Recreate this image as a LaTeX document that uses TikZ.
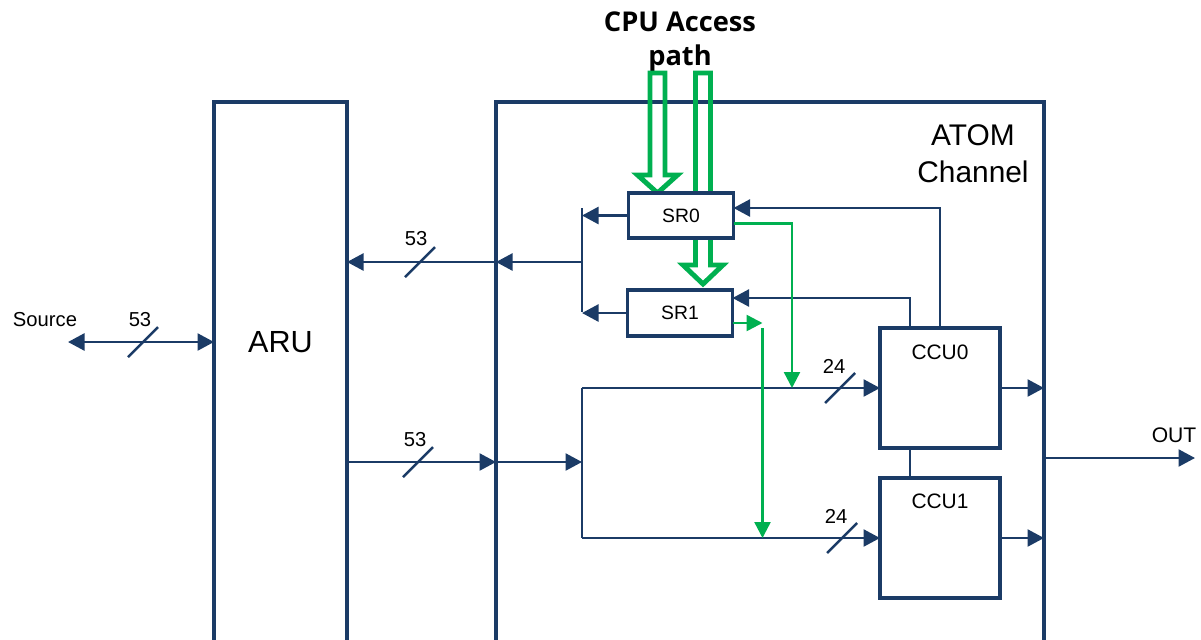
\documentclass[tikz,border=0pt]{standalone}
\usepackage{fontspec}
\setmainfont{Liberation Sans}
\newfontfamily\titlefont{Open Sans}
\usetikzlibrary{arrows.meta,positioning,calc}
\definecolor{LineNavy}{HTML}{1B3B66}
\definecolor{PathGreen}{HTML}{00B050}

\begin{document}
\begin{tikzpicture}[
  block/.style={draw=LineNavy, line width=2.2pt, fill=white, inner sep=0pt, outer sep=0pt},
  wire/.style={line width=1.4pt, LineNavy},
  arr/.style={-{Triangle[length=3.3mm,width=3.4mm]}, line width=1.4pt, LineNavy},
  dblarr/.style={{Triangle[length=3.3mm,width=3.4mm]}-{Triangle[length=3.3mm,width=3.4mm]}, line width=1.4pt, LineNavy},
  garr/.style={-{Triangle[length=3.2mm,width=3.2mm]}, line width=1.4pt, PathGreen},
  cpu/.style={draw=PathGreen, line width=2.8pt},
  lbl/.style={font=\fontsize{11.5}{13}\selectfont, inner sep=0pt}
]
\useasboundingbox (0,0) rectangle (24.02,-12.78);
\clip (0,0) rectangle (24.02,-12.78);

\node[block, fill=none, minimum width=2.66cm, minimum height=11.16cm] (aru) at (5.61,-7.62) {};
\node[block, fill=none, minimum width=10.96cm, minimum height=11.16cm] (atom) at (15.4,-7.62) {};
\node[font=\fontsize{17.4}{20}\selectfont] (arulbl) at (5.61,-6.84) {ARU};
\node[align=center, font=\fontsize{17}{21}\selectfont] (atomlbl) at (19.46,-3.07) {ATOM\\Channel};
\node[align=center, font=\titlefont\bfseries\fontsize{15.5}{19.3}\selectfont] (cpulbl) at (13.6,-0.84) {CPU Access\\path};

\draw[cpu] (13.0,-1.46) -- (13.3,-1.46) -- (13.3,-3.5) -- (13.55,-3.5) -- (13.15,-3.86) -- (12.75,-3.5) -- (13.0,-3.5) -- cycle;
\draw[cpu] (13.91,-1.46) -- (14.21,-1.46) -- (14.21,-5.3) -- (14.46,-5.3) -- (14.06,-5.68) -- (13.66,-5.3) -- (13.91,-5.3) -- cycle;

\node[block, minimum width=2.1cm, minimum height=0.9cm, font=\fontsize{11}{13}\selectfont] (sr0) at (13.62,-4.31) {SR0};
\node[block, minimum width=2.1cm, minimum height=0.92cm, font=\fontsize{11}{13}\selectfont] (sr1) at (13.6,-6.26) {SR1};
\node[block, minimum width=2.4cm, minimum height=2.4cm] (ccu0) at (18.8,-7.76) {};
\node[block, minimum width=2.4cm, minimum height=2.4cm] (ccu1) at (18.8,-10.76) {};
\node[lbl, font=\fontsize{11.9}{14}\selectfont] (ccu0lbl) at ([yshift=-0.48cm]ccu0.north) {CCU0};
\node[lbl, font=\fontsize{11.9}{14}\selectfont] (ccu1lbl) at ([yshift=-0.46cm]ccu1.north) {CCU1};

\coordinate (srcend) at (1.36,-6.84);
\coordinate (busA) at (11.64,-5.24);
\coordinate (busAtop) at (11.64,-4.16);
\coordinate (busAbot) at (11.64,-6.24);
\coordinate (busB) at (11.64,-9.24);
\coordinate (outend) at (23.9,-9.16);
\coordinate (tap0) at (15.84,-7.76);

\draw[dblarr] (srcend) -- (aru.west |- srcend);
\draw[wire] (busAtop) -- (busAbot);
\draw[arr] (sr0.west) -- (sr0.west -| busA);
\draw[arr] (sr1.west) -- (sr1.west -| busA);
\draw[arr] (busA) -- (atom.west |- busA);
\draw[arr] (atom.west |- busA) -- (aru.east |- busA);
\draw[arr] (aru.east |- busB) -- (atom.west |- busB);
\draw[arr] (atom.west |- busB) -- (busB);
\draw[wire] (busB |- ccu0) -- (busB |- ccu1);
\draw[arr] (busB |- ccu0) -- (ccu0.west);
\draw[arr] (busB |- ccu1) -- (ccu1.west);
\draw[arr] (ccu0.north) |- ([yshift=0.15cm]sr0.east);
\draw[arr] ([xshift=-0.6cm]ccu0.north) |- ([yshift=0.3cm]sr1.east);
\draw[wire] ([xshift=-0.6cm]ccu0.south) -- ([xshift=-0.6cm]ccu1.north);
\draw[arr] (ccu0.east) -- (atom.east |- ccu0);
\draw[arr] (ccu1.east) -- (atom.east |- ccu1);
\draw[arr] (atom.east |- outend) -- (outend);

\draw[garr] ([yshift=-0.16cm]sr0.east) -| (tap0);
\draw[garr] ([yshift=-0.2cm]sr1.east) -- ++(0.6,0) coordinate (tap1);
\draw[garr] ([yshift=-0.1cm]tap1) -- (tap1 |- ccu1);

\draw[wire] (2.86,-6.84) +(-0.3,-0.3) -- +(0.3,0.3);
\draw[wire] (8.4,-5.24) +(-0.3,-0.3) -- +(0.3,0.3);
\draw[wire] (8.36,-9.24) +(-0.3,-0.3) -- +(0.3,0.3);
\draw[wire] (16.8,-7.76) +(-0.3,-0.3) -- +(0.3,0.3);
\draw[wire] (16.84,-10.76) +(-0.3,-0.3) -- +(0.3,0.3);

\node[lbl] (srclbl) at (0.9,-6.4) {Source};
\node[lbl] (w53a) at (2.8,-6.4) {53};
\node[lbl] (w53b) at (8.32,-4.78) {53};
\node[lbl] (w53c) at (8.3,-8.8) {53};
\node[lbl] (w24a) at (16.68,-7.32) {24};
\node[lbl] (w24b) at (16.72,-10.32) {24};
\node[lbl, font=\fontsize{12}{14}\selectfont] (outlbl) at (23.48,-8.7) {OUT};
\end{tikzpicture}
\end{document}
